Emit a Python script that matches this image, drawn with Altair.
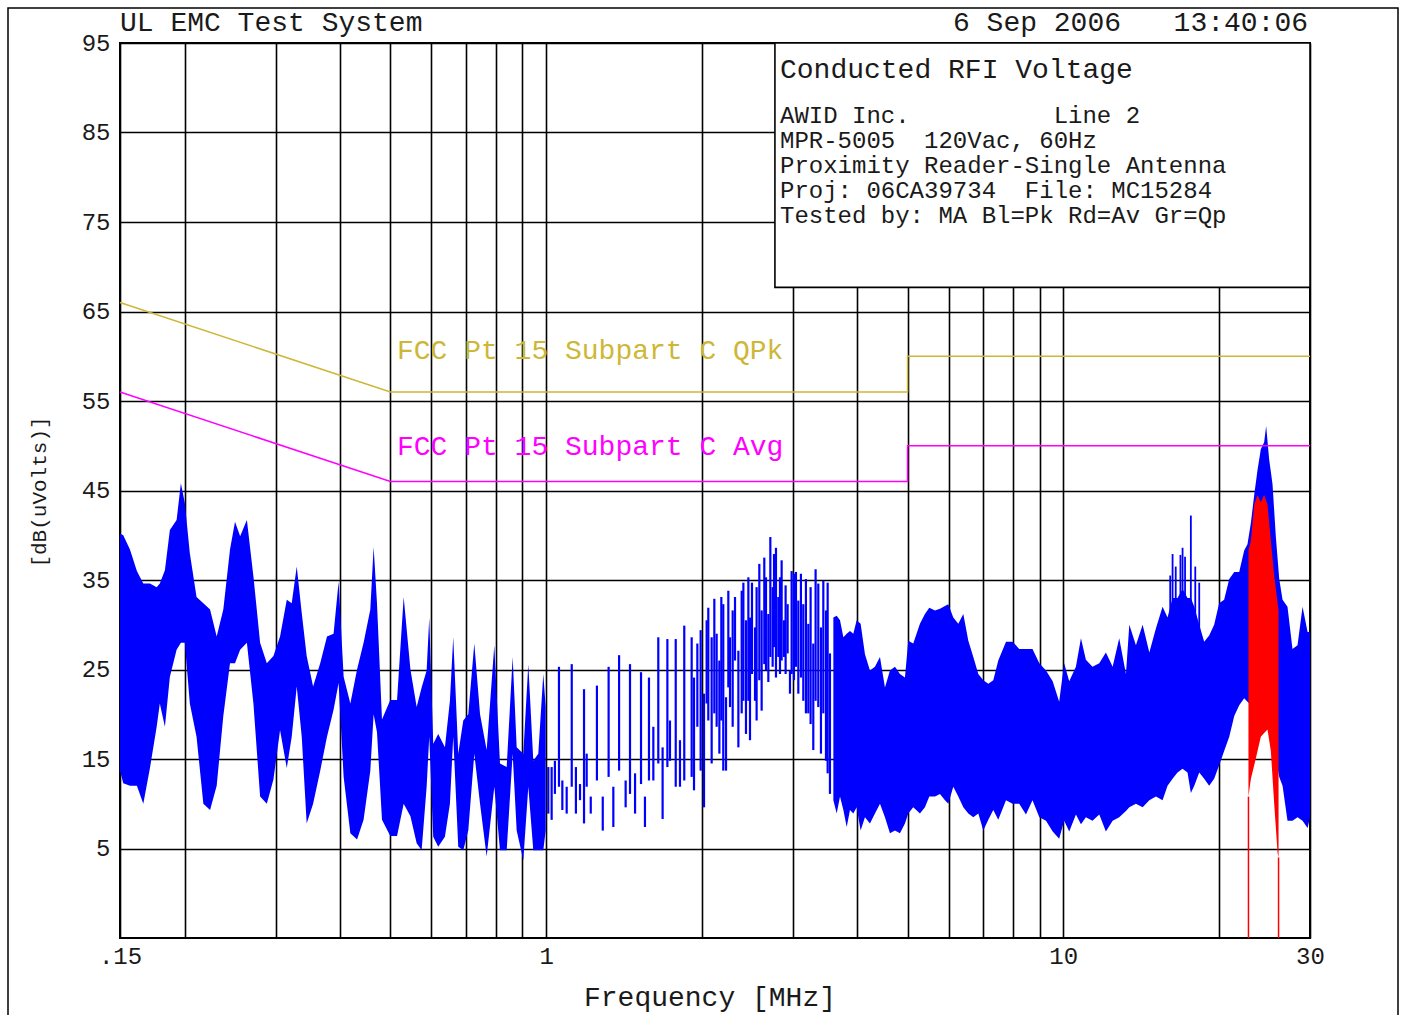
import altair as alt
import pandas as pd

FONT = "Liberation Mono"
BLUE = "#0000FF"
RED = "#FF0000"
GOLD = "#CDB737"
MAGENTA = "#FF00FF"
INK = "#1a1a1a"

# ---------------- data ----------------
# Peak trace, dense part 0.15 - 1 MHz (upper / lower envelope, dBuV)
dense1_freq = [0.150, 0.1522, 0.1568, 0.1617, 0.1664, 0.1714, 0.1766, 0.1791, 0.1832, 0.1873,
               0.1930, 0.1967, 0.2002, 0.2047, 0.2109, 0.2174, 0.2240, 0.2307, 0.2376, 0.2448,
               0.2503, 0.2561, 0.2639, 0.2717, 0.2799, 0.2884, 0.2970, 0.3059, 0.3152, 0.3222,
               0.3295, 0.3369, 0.3444, 0.3544, 0.3658, 0.3770, 0.3882, 0.3970, 0.4060, 0.4183,
               0.4310, 0.4437, 0.4572, 0.4640, 0.4710, 0.4816, 0.4997, 0.5150, 0.5304, 0.5466,
               0.5620, 0.5746, 0.5875, 0.5944, 0.6050, 0.6186, 0.6373, 0.6517, 0.6614, 0.6763,
               0.6916, 0.7072, 0.7264, 0.7452, 0.7675, 0.7941, 0.8144, 0.8391, 0.8617, 0.8772,
               0.9035, 0.9239, 0.9446, 0.9658, 0.9876, 0.9982]
dense1_hi = [40.2, 40.0, 38.4, 36.0, 34.6, 34.6, 34.2, 34.6, 36.1, 40.6,
             41.7, 45.8, 43.6, 38.0, 33.1, 32.4, 31.7, 28.7, 31.7, 38.4,
             41.5, 39.9, 41.7, 35.4, 28.0, 25.7, 26.5, 28.7, 32.8, 32.4,
             36.5, 31.3, 26.5, 23.1, 25.7, 28.7, 29.0, 34.8, 24.2, 21.2,
             25.0, 28.0, 31.7, 38.7, 32.4, 19.4, 21.6, 21.6, 33.1, 25.0,
             20.8, 23.0, 24.9, 30.8, 16.7, 17.8, 16.3, 21.5, 28.6, 15.6,
             19.3, 20.0, 27.9, 20.0, 16.0, 27.7, 14.5, 14.1, 26.4, 16.3,
             15.6, 25.6, 14.8, 15.6, 24.5, 20.8]
dense1_lo = [13.7, 12.3, 12.0, 12.0, 10.0, 14.0, 18.6, 21.2, 18.6, 24.2,
             27.2, 28.0, 28.0, 21.2, 17.5, 10.0, 9.3, 12.0, 19.8, 25.7,
             25.7, 27.2, 28.0, 21.2, 10.8, 10.0, 12.7, 18.2, 14.0, 17.5,
             23.1, 17.5, 7.8, 10.0, 13.7, 17.5, 20.5, 23.5, 13.0, 6.7,
             6.0, 8.2, 13.7, 20.0, 18.0, 8.2, 6.4, 6.4, 10.0, 8.6,
             5.6, 4.8, 11.9, 17.5, 6.3, 5.2, 6.3, 10.0, 17.5, 5.2,
             4.8, 7.0, 15.6, 10.0, 4.1, 11.9, 4.8, 4.8, 15.6, 7.0,
             3.7, 11.9, 4.8, 4.8, 4.8, 7.0]

# Peak trace, individual spikes 1 - 3.5 MHz
spike_freq = [1.0098, 1.025, 1.040, 1.059, 1.075, 1.096, 1.121, 1.142, 1.163, 1.184,
              1.198, 1.220, 1.254, 1.287, 1.321, 1.349, 1.384, 1.425, 1.453, 1.486,
              1.526, 1.553, 1.581, 1.612, 1.648, 1.680, 1.716, 1.736, 1.781, 1.815,
              1.850, 1.912, 1.932, 1.961, 1.990, 2.020, 2.044, 2.059, 2.090, 2.115,
              2.137, 2.163, 2.182, 2.201, 2.228, 2.251, 2.268, 2.295, 2.319, 2.354,
              2.389, 2.407, 2.435, 2.461, 2.479, 2.501, 2.535, 2.553, 2.584, 2.611,
              2.642, 2.662, 2.690, 2.714, 2.742, 2.759, 2.783, 2.812, 2.833, 2.854,
              2.884, 2.905, 2.931, 2.962, 2.984, 3.015, 3.042, 3.074, 3.110, 3.143,
              3.180, 3.214, 3.247, 3.286, 3.320, 3.360, 3.400, 3.436, 3.477, 3.503,
              3.539]
spike_hi = [14.1, 14.1, 14.8, 25.3, 12.6, 11.9, 25.6, 14.1, 12.2, 22.8,
            15.6, 10.8, 23.2, 10.8, 25.3, 11.9, 26.6, 12.6, 25.6, 13.4,
            24.7, 10.8, 24.1, 18.6, 28.6, 16.3, 28.4, 19.3, 28.4, 17.1,
            29.9, 28.6, 24.1, 27.9, 29.4, 22.3, 30.5, 31.9, 28.6, 32.9,
            29.0, 26.0, 33.1, 32.3, 21.9, 33.8, 28.6, 31.6, 33.1, 27.1,
            33.8, 34.7, 30.5, 35.3, 30.8, 34.7, 29.7, 34.2, 36.8, 31.6,
            37.5, 35.3, 31.2, 39.8, 34.2, 37.9, 38.6, 33.1, 35.3, 37.2,
            30.5, 34.4, 32.3, 24.9, 36.0, 35.7, 35.9, 32.7, 35.7, 32.3,
            35.1, 30.1, 34.2, 27.9, 36.2, 34.6, 29.7, 34.9, 31.6, 34.7,
            26.8]
spike_lo = [8.9, 8.2, 11.1, 11.9, 9.3, 8.9, 11.9, 8.9, 10.4, 7.8,
            11.9, 8.9, 12.6, 7.0, 13.0, 7.4, 13.7, 9.6, 11.1, 8.9,
            12.2, 7.4, 12.6, 12.6, 14.5, 8.3, 14.1, 14.8, 11.9, 11.9,
            12.6, 13.0, 11.5, 18.6, 13.7, 9.6, 21.2, 19.3, 14.5, 20.1,
            18.6, 15.6, 19.3, 13.7, 13.7, 23.0, 20.8, 18.6, 26.0, 16.3,
            20.1, 21.5, 17.8, 21.5, 17.1, 24.5, 21.5, 19.3, 23.8, 20.4,
            25.6, 24.9, 23.6, 26.4, 25.3, 27.5, 24.1, 26.4, 24.5, 26.0,
            26.4, 24.5, 26.8, 22.3, 24.5, 23.8, 25.3, 22.3, 24.1, 21.5,
            20.1, 20.1, 18.9, 16.0, 21.5, 20.8, 15.6, 20.1, 14.8, 13.4,
            11.1]

# Peak trace, dense part 3.5 - 30 MHz
dense2_freq = [3.593, 3.647, 3.701, 3.757, 3.813, 3.869, 3.927, 3.986, 4.057, 4.136,
               4.229, 4.324, 4.422, 4.521, 4.623, 4.727, 4.833, 4.942, 5.015, 5.128,
               5.283, 5.402, 5.508, 5.649, 5.776, 5.906, 5.994, 6.129, 6.267, 6.408,
               6.553, 6.700, 6.851, 7.005, 7.163, 7.323, 7.488, 7.75, 7.98, 8.22,
               8.47, 8.72, 8.99, 9.26, 9.54, 9.82, 10.04, 10.27, 10.58, 10.82,
               11.06, 11.39, 11.74, 12.09, 12.46, 12.83, 13.22, 13.42, 13.82, 14.24,
               14.67, 15.11, 15.56, 15.91, 16.27, 16.63, 17.01, 17.39, 17.65, 17.92,
               18.32, 18.73, 19.15, 19.58, 20.02, 20.47, 20.94, 21.41, 21.89, 22.38,
               22.71, 23.06, 23.40, 23.75, 24.10, 24.46, 24.68, 25.01, 25.39, 25.77,
               26.16, 26.55, 27.14, 27.75, 28.38, 29.02, 29.68, 30.0]
dense2_hi = [30.8, 31.0, 30.5, 28.6, 29.0, 29.3, 29.0, 30.5, 30.1, 26.7,
             24.9, 25.3, 26.4, 23.0, 24.9, 25.3, 24.5, 24.1, 28.2, 27.9,
             30.1, 31.2, 31.9, 31.6, 31.8, 32.1, 32.3, 30.8, 30.1, 31.2,
             28.2, 26.4, 24.5, 23.8, 23.4, 23.8, 26.0, 28.1, 28.1, 27.3,
             27.3, 27.3, 25.7, 24.9, 23.7, 21.4, 25.7, 23.7, 25.3, 28.5,
             26.1, 25.3, 25.7, 26.9, 25.3, 28.5, 24.5, 30.0, 27.7, 30.0,
             26.9, 29.6, 32.0, 30.8, 33.0, 33.0, 34.0, 33.0, 33.0, 32.0,
             30.0, 28.1, 28.8, 30.0, 32.4, 32.8, 35.1, 35.9, 35.9, 38.3,
             39.0, 41.4, 44.5, 47.3, 49.6, 50.4, 52.2, 48.5, 45.7, 39.8,
             35.1, 32.8, 32.0, 27.3, 27.7, 32.0, 29.2, 29.2]
dense2_lo = [10.4, 8.9, 10.8, 9.3, 7.4, 9.3, 8.9, 9.6, 7.0, 8.5,
             7.8, 8.9, 10.0, 8.5, 6.7, 7.0, 6.7, 7.8, 8.9, 9.6,
             8.9, 9.6, 10.8, 10.8, 11.1, 10.4, 10.0, 11.9, 10.8, 9.6,
             8.9, 8.5, 8.9, 7.0, 8.2, 9.3, 8.2, 10.4, 10.0, 10.0,
             8.8, 10.4, 8.5, 8.1, 6.9, 6.1, 8.1, 6.9, 8.8, 7.7,
             8.5, 8.1, 8.8, 6.9, 8.1, 8.5, 9.2, 9.6, 10.0, 9.6,
             10.4, 10.8, 10.4, 12.0, 12.8, 13.5, 13.9, 13.5, 11.2, 12.0,
             13.5, 12.8, 12.0, 12.8, 14.3, 15.9, 17.5, 19.8, 21.0, 21.8,
             21.4, 21.0, 20.0, 19.0, 19.0, 19.0, 19.0, 19.0, 18.0, 15.0,
             13.0, 12.0, 8.1, 8.1, 8.5, 8.1, 7.3, 8.5]

# Tall isolated peaks above the dense band 16 - 18.5 MHz
peak_freq = [16.10, 16.27, 16.50, 16.85, 17.01, 17.20, 17.65, 18.00, 18.32]
peak_hi = [35.5, 37.9, 36.5, 37.8, 38.6, 37.6, 42.2, 36.5, 34.7]
peak_lo = [25.0, 25.0, 25.0, 25.0, 25.0, 25.0, 25.0, 25.0, 25.0]

# Average trace (red), only measured 22.8 - 26.1 MHz
avg_freq = [22.81, 23.06, 23.40, 23.75, 24.10, 24.46, 24.83, 25.20, 25.58, 25.97, 26.08]
avg_hi = [38.3, 39.4, 43.4, 44.5, 43.7, 44.5, 43.4, 39.4, 35.5, 32.4, 31.6]
avg_lo = [10.8, 12.8, 14.3, 15.9, 17.5, 17.9, 18.3, 15.9, 10.0, 4.5, 4.0]
avg_edge_freq = [22.81, 26.08]
avg_edge_top = [10.8, 4.0]
avg_edge_bottom = [-5, -5]

# FCC Part 15 Subpart C limits
qp_limit_freq = [0.15, 0.5, 5.0, 5.0, 30.0]
qp_limit_level = [66, 56, 56, 60, 60]
avg_limit_freq = [0.15, 0.5, 5.0, 5.0, 30.0]
avg_limit_level = [56, 46, 46, 50, 50]

limit_label_text = ["FCC Pt 15 Subpart C QPk", "FCC Pt 15 Subpart C Avg"]
limit_label_freq = [0.5148, 0.5148]
limit_label_level = [59.7, 49.0]
limit_label_color = [GOLD, MAGENTA]

# axis ticks
x_grid = [0.15, 0.2, 0.3, 0.4, 0.5, 0.6, 0.7, 0.8, 0.9, 1, 2, 3, 4, 5, 6, 7, 8, 9, 10, 20, 30]
y_ticks = [5, 15, 25, 35, 45, 55, 65, 75, 85, 95]

# info box extent (data coordinates)
box_freq = [2.77, 30.0]
box_level = [67.7, 95.0]

# ---------------- chart ----------------
xscale = alt.Scale(type="log", domain=[0.15, 30], nice=False)
yscale = alt.Scale(domain=[-5, 95], nice=False, zero=False)

x_axis = alt.Axis(values=x_grid, grid=True, gridColor="#000000", gridWidth=1.6, gridOpacity=1,
                  ticks=False, domain=False, title=None,
                  labelExpr="datum.value == 0.15 ? '.15' : (datum.value == 1 || datum.value == 10 || datum.value == 30) ? format(datum.value, 'd') : ''",
                  labelFont=FONT, labelFontSize=24, labelColor=INK, labelPadding=6,
                  labelFlush=False, labelBound=False, labelOverlap=False)
y_axis = alt.Axis(values=y_ticks, grid=True, gridColor="#000000", gridWidth=1.6, gridOpacity=1,
                  ticks=False, domain=False, title=None,
                  labelFont=FONT, labelFontSize=24, labelColor=INK, labelPadding=10,
                  labelOverlap=False, labelBound=False)


def X(field):
    return alt.X(f"{field}:Q", scale=xscale, axis=x_axis)


def Y(field):
    return alt.Y(f"{field}:Q", scale=yscale, axis=y_axis)


d1 = pd.DataFrame({"f": dense1_freq, "hi": dense1_hi, "lo": dense1_lo})
sp = pd.DataFrame({"f": spike_freq, "hi": spike_hi, "lo": spike_lo})
d2 = pd.DataFrame({"f": dense2_freq, "hi": dense2_hi, "lo": dense2_lo})
pk = pd.DataFrame({"f": peak_freq, "hi": peak_hi, "lo": peak_lo})
av = pd.DataFrame({"f": avg_freq, "hi": avg_hi, "lo": avg_lo})
ae = pd.DataFrame({"f": avg_edge_freq, "hi": avg_edge_top, "lo": avg_edge_bottom})
ql = pd.DataFrame({"f": qp_limit_freq, "v": qp_limit_level, "i": range(len(qp_limit_freq))})
al = pd.DataFrame({"f": avg_limit_freq, "v": avg_limit_level, "i": range(len(avg_limit_freq))})
lb = pd.DataFrame({"f": limit_label_freq, "v": limit_label_level, "t": limit_label_text,
                   "c": limit_label_color})
bx = pd.DataFrame({"f1": [box_freq[0]], "f2": [box_freq[1]], "v1": [box_level[0]], "v2": [box_level[1]]})

layers = []
layers.append(alt.Chart(d1).mark_area(color=BLUE, interpolate="linear").encode(
    x=X("f"), y=Y("hi"), y2="lo:Q"))
layers.append(alt.Chart(sp).mark_rule(color=BLUE, strokeWidth=2.2).encode(
    x=X("f"), y=Y("hi"), y2="lo:Q"))
layers.append(alt.Chart(d2).mark_area(color=BLUE, interpolate="linear").encode(
    x=X("f"), y=Y("hi"), y2="lo:Q"))
layers.append(alt.Chart(pk).mark_rule(color=BLUE, strokeWidth=1.8).encode(
    x=X("f"), y=Y("hi"), y2="lo:Q"))
layers.append(alt.Chart(av).mark_area(color=RED, interpolate="linear").encode(
    x=X("f"), y=Y("hi"), y2="lo:Q"))
layers.append(alt.Chart(ae).mark_rule(color=RED, strokeWidth=1.5).encode(
    x=X("f"), y=Y("hi"), y2="lo:Q"))
layers.append(alt.Chart(ql).mark_line(color=GOLD, strokeWidth=1.5).encode(
    x=X("f"), y=Y("v"), order="i:Q"))
layers.append(alt.Chart(al).mark_line(color=MAGENTA, strokeWidth=1.5).encode(
    x=X("f"), y=Y("v"), order="i:Q"))
layers.append(alt.Chart(lb).mark_text(align="left", baseline="alphabetic", font=FONT, fontSize=28).encode(
    x=X("f"), y=Y("v"), text="t:N", color=alt.Color("c:N", scale=None)))
layers.append(alt.Chart(bx).mark_rect(fill="white", stroke="black", strokeWidth=1.6).encode(
    x=X("f1"), x2="f2:Q", y=Y("v1"), y2="v2:Q"))


def txt(s, x, y, size, align="left", angle=0, baseline="alphabetic"):
    # non-breaking spaces keep the monospaced column layout of the original
    s = s.replace(" ", "\u00a0")
    return alt.Chart(pd.DataFrame({"t": [s]})).mark_text(
        align=align, baseline=baseline, font=FONT, fontSize=size, color=INK, angle=angle
    ).encode(x=alt.value(x), y=alt.value(y), text="t:N")


layers += [
    txt("UL EMC Test System", 0, -12, 28),
    txt("6 Sep 2006", 833, -12, 28),
    txt("13:40:06", 1188, -12, 28, align="right"),
    txt("Conducted RFI Voltage", 660, 35, 28),
    txt("AWID Inc.          Line 2", 660, 80, 24),
    txt("MPR-5005  120Vac, 60Hz", 660, 105, 24),
    txt("Proximity Reader-Single Antenna", 660, 130, 24),
    txt("Proj: 06CA39734  File: MC15284", 660, 155, 24),
    txt("Tested by: MA Bl=Pk Rd=Av Gr=Qp", 660, 180, 24),
    txt("Frequency [MHz]", 590, 963, 28, align="center"),
    txt("[dB(uVolts)]", -80, 449, 21, align="center", angle=270, baseline="middle"),
]

frame = alt.Chart(pd.DataFrame({"k": [0]})).mark_rect(
    fillOpacity=0, stroke="black", strokeWidth=1.5
).encode(x=alt.value(-112), x2=alt.value(1278), y=alt.value(-35), y2=alt.value(1000))
layers.append(frame)

chart = alt.layer(*layers).properties(
    width=1190, height=895,
    autosize=alt.AutoSizeParams(type="none"),
    padding={"left": 120, "top": 43, "right": 93, "bottom": 77},
    background="white",
).configure_view(stroke="black", strokeWidth=2)

chart.save("out.html", embed_options={"renderer": "svg", "actions": False})
